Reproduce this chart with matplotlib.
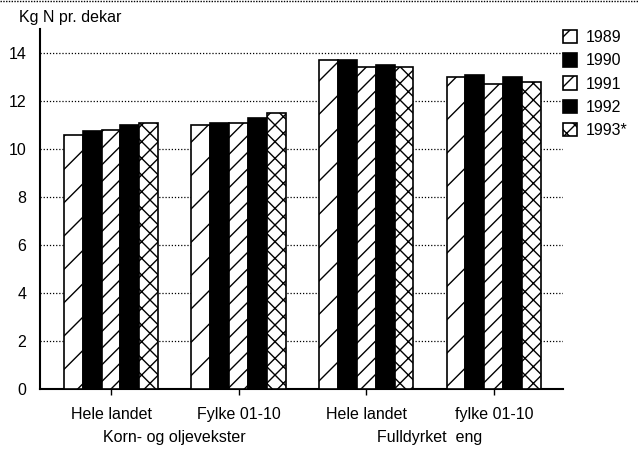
import numpy as np
import matplotlib
matplotlib.use("Agg")
import matplotlib.pyplot as plt

plt.rcParams['font.family'] = ['Liberation Sans', 'DejaVu Sans']
plt.rcParams['hatch.linewidth'] = 1.0

# data
groups = ["Hele landet", "Fylke 01-10", "Hele landet", "fylke 01-10"]
main_groups = ["Korn- og oljevekster", "Fulldyrket  eng"]
years = ["1989", "1990", "1991", "1992", "1993*"]
v1989 = [10.6, 11.0, 13.7, 13.0]
v1990 = [10.75, 11.1, 13.7, 13.1]
v1991 = [10.8, 11.1, 13.4, 12.7]
v1992 = [11.0, 11.3, 13.5, 13.0]
v1993 = [11.1, 11.5, 13.4, 12.8]
values = [v1989, v1990, v1991, v1992, v1993]

# styles per year
faces = ["white", "black", "white", "black", "white"]
hatches = ["/", None, "//", None, "xx"]

fig = plt.figure(figsize=(6.38, 4.53), dpi=100)
ax = fig.add_axes([0.063, 0.141, 0.819, 0.795])

x = np.arange(len(groups))
w = 0.148
for i, vals in enumerate(values):
    ax.bar(x + (i - 2) * w, vals, w, color=faces[i], edgecolor="black",
           linewidth=1.2, hatch=hatches[i], label=years[i], zorder=3)

ax.set_xlim(-0.555, 3.54)
ax.set_ylim(0, 15)
ax.set_yticks(range(0, 15, 2))
ax.set_xticks(x)
ax.set_xticklabels(groups, fontsize=11.5)
ax.tick_params(axis="y", labelsize=11.5, length=0, pad=10)
ax.tick_params(axis="x", length=4, width=1, pad=9)
ax.yaxis.grid(True, linestyle=(0, (1, 1.5)), color="black", linewidth=0.9, zorder=0)
ax.set_axisbelow(True)
for s in ["top", "right"]:
    ax.spines[s].set_visible(False)
ax.spines["left"].set_linewidth(1.5)
ax.spines["bottom"].set_linewidth(1.5)

# second level labels
for j, name in enumerate(main_groups):
    ax.text(0.5 + 2 * j, -2.0, name, ha="center", va="center", fontsize=11.5)

fig.text(0.03, 0.962, "Kg N pr. dekar", fontsize=11.5, ha="left", va="center")

# dotted border from scan at top
fig.add_artist(plt.Line2D([0, 1], [0.997, 0.997], transform=fig.transFigure,
                          color="black", linestyle=(0, (1, 1)), linewidth=1))

leg = fig.legend(loc="upper left", bbox_to_anchor=(0.86, 0.965), frameon=False,
                 fontsize=11.5, handlelength=0.9, handleheight=0.9,
                 handletextpad=0.5, labelspacing=0.5)

fig.savefig("out.png", dpi=100)
